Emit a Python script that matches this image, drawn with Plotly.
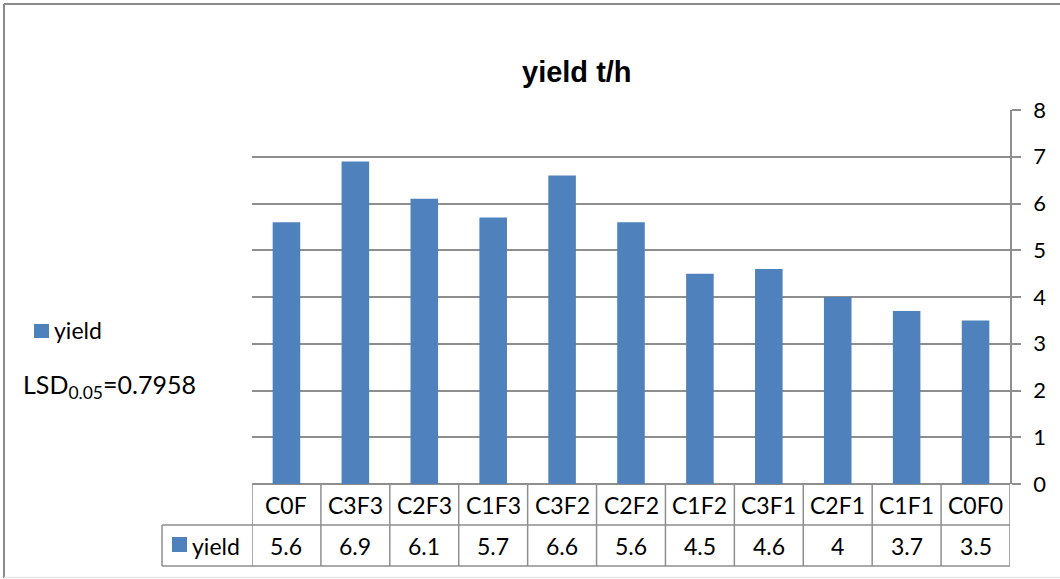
import plotly.graph_objects as go

# Treatments and mean yield (t/h)
categories = ["C0F", "C3F3", "C2F3", "C1F3", "C3F2", "C2F2", "C1F2", "C3F1", "C2F1", "C1F1", "C0F0"]
yield_values = [5.6, 6.9, 6.1, 5.7, 6.6, 5.6, 4.5, 4.6, 4.0, 3.7, 3.5]
y_ticks = [0, 1, 2, 3, 4, 5, 6, 7, 8]
series_name = "yield"
lsd_label = "LSD<sub>0.05</sub>=0.7958"

W, H = 1060, 579
BAR = "#4F81BD"
GRID = "#8E8E8E"
TXT = "#000000"
FONT = "Lato, 'Noto Sans', sans-serif"

# Plot area in pixels
px_left, px_right, px_top, px_bottom = 252, 1010, 110, 484
row1_bot, row2_bot = 525, 566
key_left = 162


def fx(px):
    return px / W


def fy(py):
    return 1 - py / H


n = len(categories)
idx = list(range(n))

fig = go.Figure()
fig.add_trace(go.Bar(
    x=idx, y=yield_values, marker=dict(color=BAR, line=dict(width=0)),
    width=0.4, name=series_name, showlegend=False, hoverinfo="skip",
))

shapes = []
line = dict(color=GRID, width=1.5)
# Data-table rows beneath the plot
for yb in (row1_bot, row2_bot):
    shapes.append(dict(type="line", xref="paper", yref="paper",
                       x0=fx(key_left), x1=fx(px_right), y0=fy(yb), y1=fy(yb), line=line))
shapes.append(dict(type="line", xref="paper", yref="paper",
                   x0=fx(key_left), x1=fx(key_left), y0=fy(row1_bot), y1=fy(row2_bot), line=line))
# Column separators aligned with category boundaries
for i in range(n + 1):
    shapes.append(dict(type="line", xref="x", yref="paper",
                       x0=i - 0.5, x1=i - 0.5, y0=fy(px_bottom), y1=fy(row2_bot), line=line))
# Legend key square in the table
shapes.append(dict(type="rect", xref="paper", yref="paper",
                   x0=fx(172), x1=fx(187), y0=fy(552), y1=fy(537),
                   fillcolor=BAR, line=dict(width=0)))
# Side legend key
shapes.append(dict(type="rect", xref="paper", yref="paper",
                   x0=fx(34), x1=fx(49), y0=fy(338), y1=fy(324),
                   fillcolor=BAR, line=dict(width=0)))
# Outer chart frame
shapes.append(dict(type="line", xref="paper", yref="paper",
                   x0=fx(4), x1=fx(4), y0=fy(4), y1=fy(578), line=dict(color="#8A8A8A", width=2)))
shapes.append(dict(type="line", xref="paper", yref="paper",
                   x0=fx(4), x1=1, y0=fy(4), y1=fy(4), line=dict(color="#8A8A8A", width=2)))
shapes.append(dict(type="line", xref="paper", yref="paper",
                   x0=fx(4), x1=1, y0=fy(577.5), y1=fy(577.5), line=dict(color="#E6E6E6", width=1.5)))


def label(x, y, text, size, xref="paper", xanchor="center", family=FONT):
    return dict(x=x, y=y, xref=xref, yref="paper", text=text, showarrow=False,
                xanchor=xanchor, yanchor="middle",
                font=dict(size=size, color=TXT, family=family))


annotations = []
row1_mid = (px_bottom + row1_bot) / 2
row2_mid = (row1_bot + row2_bot) / 2
for i, (c, v) in enumerate(zip(categories, yield_values)):
    annotations.append(label(i, fy(row1_mid), c, 23, xref="x"))
    annotations.append(label(i, fy(row2_mid), f"{v:g}", 23, xref="x"))
annotations.append(label(fx(190), fy(row2_mid), series_name, 23, xanchor="left"))
annotations.append(label(fx(52), fy(330), series_name, 23, xanchor="left"))
annotations.append(label(fx(21), fy(386), lsd_label, 25, xanchor="left"))
annotations.append(label(fx(577), fy(72), "<b>yield t/h</b>", 29,
                         family="Liberation Sans, Arial, sans-serif"))

fig.update_layout(
    width=W, height=H,
    margin=dict(l=0, r=0, t=0, b=0, pad=0, autoexpand=False),
    paper_bgcolor="white", plot_bgcolor="white",
    showlegend=False,
    bargap=0.6,
    xaxis=dict(domain=[fx(px_left), fx(px_right)], range=[-0.5, n - 0.5],
               showticklabels=False, ticks="", showgrid=False, zeroline=False,
               showline=False, fixedrange=True, automargin=False),
    yaxis=dict(domain=[fy(px_bottom), fy(px_top)], range=[0, 8], side="right",
               tickvals=y_ticks, ticks="outside", ticklen=9, tickcolor=GRID, tickwidth=1.5,
               showgrid=True, gridcolor=GRID, gridwidth=1.5,
               showline=True, linecolor=GRID, linewidth=1.5,
               zeroline=True, zerolinecolor=GRID, zerolinewidth=1.5,
               tickfont=dict(size=22, color=TXT, family=FONT), fixedrange=True,
               ticklabelstandoff=8, automargin=False),
    shapes=shapes,
    annotations=annotations,
)

fig.write_html("out.html")
